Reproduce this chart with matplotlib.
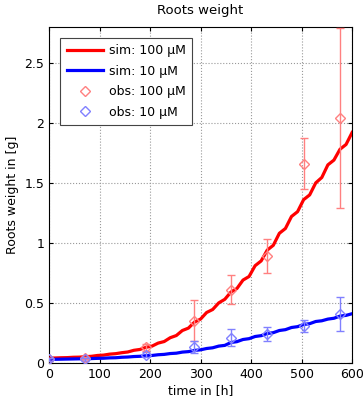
import numpy as np
import matplotlib
matplotlib.use('Agg')
import matplotlib.pyplot as plt
from matplotlib.lines import Line2D

# simulated curves, every 12 h (daily growth steps)
sim_t = [0, 12, 24, 36, 48, 60, 72, 84, 96, 108, 120, 132, 144, 156, 168, 180, 192, 204, 216, 228,
         240, 252, 264, 276, 288, 300, 312, 324, 336, 348, 360, 372, 384, 396, 408, 420, 432, 444,
         456, 468, 480, 492, 504, 516, 528, 540, 552, 564, 576, 588, 600]
sim_100 = [0.040, 0.041, 0.043, 0.044, 0.047, 0.048, 0.052, 0.055, 0.062, 0.065, 0.073, 0.077,
           0.085, 0.091, 0.105, 0.112, 0.130, 0.140, 0.165, 0.178, 0.210, 0.228, 0.270, 0.290,
           0.340, 0.365, 0.420, 0.445, 0.500, 0.530, 0.590, 0.620, 0.690, 0.720, 0.810, 0.850,
           0.940, 0.980, 1.080, 1.120, 1.220, 1.260, 1.360, 1.400, 1.500, 1.545, 1.650, 1.690,
           1.780, 1.820, 1.920]
sim_10 = [0.030, 0.030, 0.031, 0.032, 0.033, 0.034, 0.035, 0.036, 0.038, 0.039, 0.042, 0.043,
          0.047, 0.049, 0.053, 0.055, 0.060, 0.062, 0.068, 0.071, 0.078, 0.081, 0.090, 0.094,
          0.104, 0.109, 0.120, 0.126, 0.140, 0.146, 0.170, 0.177, 0.195, 0.202, 0.220, 0.227,
          0.245, 0.252, 0.270, 0.277, 0.295, 0.302, 0.320, 0.327, 0.345, 0.351, 0.365, 0.372,
          0.390, 0.396, 0.410]

# observations
obs_t = [0, 72, 192, 288, 360, 432, 504, 576]
obs_100 = [0.03, 0.04, 0.13, 0.35, 0.61, 0.89, 1.66, 2.04]
err_100 = [0.01, 0.01, 0.03, 0.17, 0.12, 0.14, 0.21, 0.75]
obs_10 = [0.03, 0.03, 0.07, 0.13, 0.21, 0.24, 0.31, 0.41]
err_10 = [0.01, 0.01, 0.02, 0.05, 0.07, 0.06, 0.05, 0.14]

light_red = (1, 0.5, 0.5)
light_blue = (0.5, 0.5, 1)

fig = plt.figure(figsize=(3.63, 4.01), dpi=100)
ax = fig.add_axes([0.135, 0.095, 0.835, 0.838])

ax.plot(sim_t, sim_100, color='red', lw=2.3, zorder=3)
ax.plot(sim_t, sim_10, color='blue', lw=2.3, zorder=3)
ax.errorbar(obs_t, obs_100, yerr=err_100, fmt='D', ms=5.5, mfc='none', mec=light_red,
            ecolor=light_red, elinewidth=1, capsize=3, zorder=4)
ax.errorbar(obs_t, obs_10, yerr=err_10, fmt='D', ms=5.5, mfc='none', mec=light_blue,
            ecolor=light_blue, elinewidth=1, capsize=3, zorder=4)

ax.set_xlim(0, 600)
ax.set_ylim(0, 2.8)
ax.set_xticks([0, 100, 200, 300, 400, 500, 600])
ax.set_yticks([0, 0.5, 1, 1.5, 2, 2.5])
ax.set_yticklabels(['0', '0.5', '1', '1.5', '2', '2.5'])
ax.tick_params(direction='in', top=True, right=True, labelsize=9, length=3)
ax.grid(True, linestyle=':', color='#999999', lw=0.8)
ax.set_xlabel('time in [h]', fontsize=9, labelpad=2)
ax.set_ylabel('Roots weight in [g]', fontsize=9, labelpad=4)
ax.set_title('Roots weight', fontsize=9.5, pad=9)

handles = [
    Line2D([], [], color='red', lw=2.3),
    Line2D([], [], color='blue', lw=2.3),
    Line2D([], [], ls='none', marker='D', ms=5.5, mfc='none', mec=light_red),
    Line2D([], [], ls='none', marker='D', ms=5.5, mfc='none', mec=light_blue),
]
labels = ['sim: 100 μM', 'sim: 10 μM', 'obs: 100 μM', 'obs: 10 μM']
leg = ax.legend(handles, labels, loc='upper left', fontsize=9, fancybox=False,
                edgecolor='#444444', framealpha=1, borderaxespad=0.9, handlelength=2.9,
                handletextpad=0.5, labelspacing=0.6, borderpad=0.5)
leg.get_frame().set_linewidth(0.8)

fig.savefig('out.png', dpi=100)
